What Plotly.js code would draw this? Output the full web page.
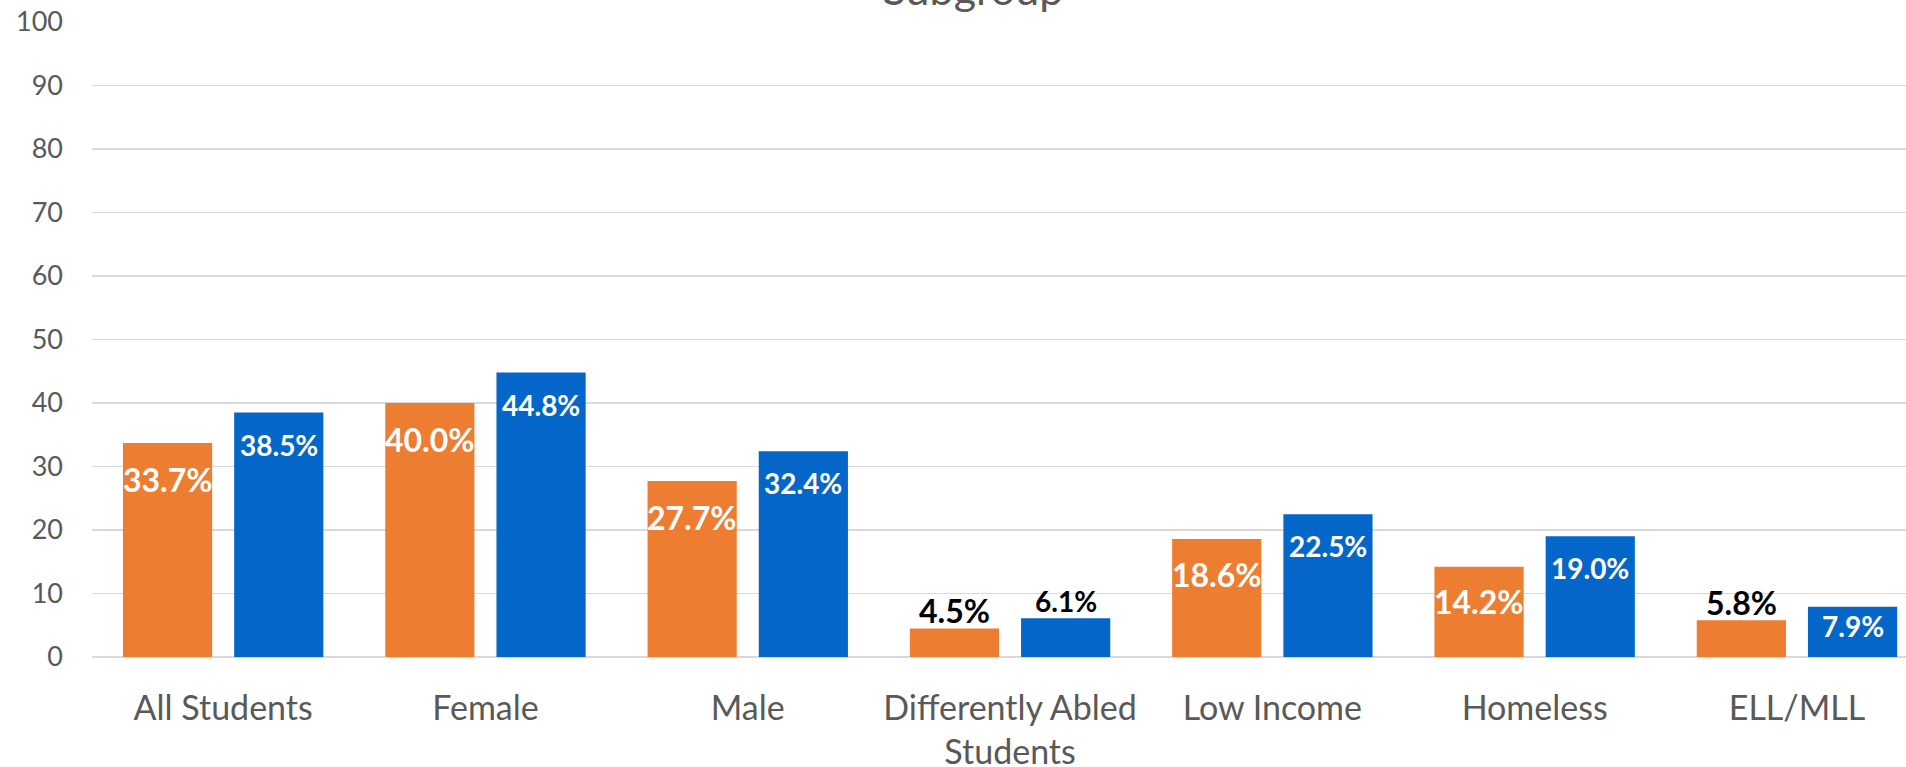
<!DOCTYPE html>
<html>
<head>
<meta charset="utf-8">
<script src="https://cdn.plot.ly/plotly-3.0.1.min.js"></script>
<style>
  html, body { margin: 0; padding: 0; background: #ffffff; }
  #chart { width: 1906px; height: 767px; }
</style>
</head>
<body>
<div id="chart"></div>
<script>
// Subgroup categories along the x axis
const categories = [
  'All Students',
  'Female',
  'Male',
  'Differently Abled<br>Students',
  'Low Income',
  'Homeless',
  'ELL/MLL'
];

// Percentages for the two series, one value per subgroup
const seriesOrange = [33.7, 40.0, 27.7, 4.5, 18.6, 14.2, 5.8];
const seriesBlue = [38.5, 44.8, 32.4, 6.1, 22.5, 19.0, 7.9];

// Y axis ticks
const yTicks = [0, 10, 20, 30, 40, 50, 60, 70, 80, 90, 100];

// ---- styling ----
const W = 1906, H = 767;
const margin = { l: 92, r: 0, t: 22, b: 110, pad: 0 };
const plotH = H - margin.t - margin.b;
const plotW = W - margin.l - margin.r;
const catStep = 262.3;               // pixels per category
const bargap = 0.152;
const bargroupgap = 0.198;
const FONT = 'Lato, "Open Sans", sans-serif';
const GREY = '#595959';

const orange = '#ED7D31';
const blue = '#0466C8';

const series = [
  { name: 'Series 1', values: seriesOrange, color: orange, labelSize: 32, insideShift: 36, outsideShift: 18 },
  { name: 'Series 2', values: seriesBlue, color: blue, labelSize: 28, insideShift: 32, outsideShift: 17 }
];

const traces = series.map(s => ({
  type: 'bar',
  name: s.name,
  x: categories,
  y: s.values,
  marker: { color: s.color, line: { width: 0 } },
  hoverinfo: 'x+y',
  showlegend: false
}));

// Value labels: centred on each bar, inside near the top for taller bars,
// just above the bar (in black) for the short ones.
const pxPerUnit = plotH / 100;
const slot = (1 - bargap) / series.length;
const annotations = [];
series.forEach((s, k) => {
  const offset = (k - (series.length - 1) / 2) * slot;
  s.values.forEach((v, i) => {
    const barPx = v * pxPerUnit;
    const inside = v >= 7;
    annotations.push({
      xref: 'x', yref: 'y',
      x: i + offset,
      y: v,
      text: v.toFixed(1) + '%',
      showarrow: false,
      xanchor: 'center',
      yanchor: 'middle',
      yshift: inside ? -Math.min(s.insideShift, 0.38 * barPx) : s.outsideShift,
      font: { family: FONT, size: s.labelSize, weight: 700, color: inside ? '#ffffff' : '#000000' }
    });
  });
});

const layout = {
  width: W,
  height: H,
  margin: margin,
  paper_bgcolor: '#ffffff',
  plot_bgcolor: '#ffffff',
  barmode: 'group',
  bargap: bargap,
  bargroupgap: bargroupgap,
  title: {
    text: 'Subgroup',
    font: { family: FONT, size: 43, color: GREY },
    xref: 'container',
    yref: 'container',
    x: 973 / W,
    xanchor: 'center',
    y: 1 - 5 / H,
    yanchor: 'bottom'
  },
  xaxis: {
    type: 'category',
    range: [-0.5, -0.5 + plotW / catStep],
    showgrid: false,
    zeroline: false,
    showline: false,
    ticks: '',
    ticklabelstandoff: 28,
    tickfont: { family: FONT, size: 34, color: GREY },
    fixedrange: true
  },
  yaxis: {
    range: [0, 100],
    tickmode: 'array',
    tickvals: yTicks,
    ticktext: yTicks.map(String),
    showgrid: true,
    gridcolor: '#D9D9D9',
    gridwidth: 1.5,
    zeroline: true,
    zerolinecolor: '#D9D9D9',
    zerolinewidth: 1.5,
    showline: false,
    ticks: '',
    ticklabelstandoff: 28,
    tickfont: { family: FONT, size: 27, color: GREY },
    fixedrange: true
  },
  annotations: annotations,
  showlegend: false
};

Plotly.newPlot('chart', traces, layout, { displayModeBar: false, staticPlot: true });
</script>
</body>
</html>
